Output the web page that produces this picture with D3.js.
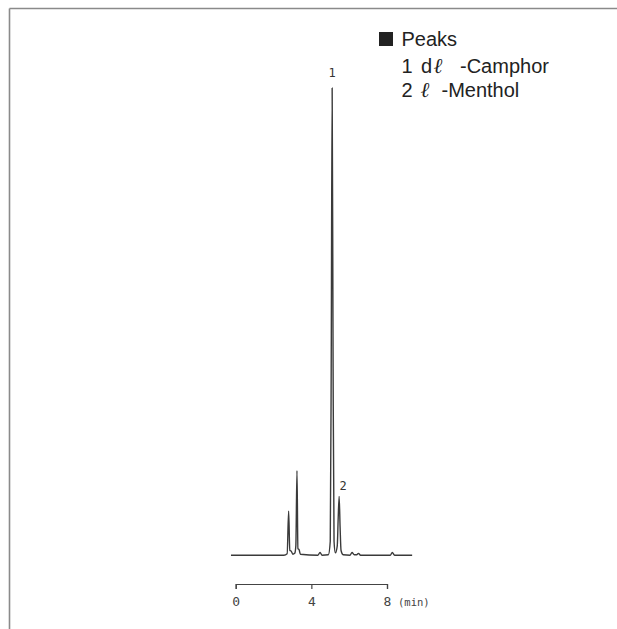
<!DOCTYPE html>
<html><head><meta charset="utf-8">
<script src="https://cdn.jsdelivr.net/npm/d3@7"></script>
<style>body{margin:0;background:#fff}svg{display:block}</style>
</head><body>
<script>
// Chromatogram trace: retention time (min) and relative signal
const traceTime   = [-0.25, 2.55, 2.72, 2.80, 2.86, 2.93, 3.02, 3.12, 3.18, 3.24, 3.29, 3.35, 3.42, 4.35, 4.46, 4.56, 4.90, 5.00, 5.05, 5.10, 5.15, 5.20, 5.27, 5.37, 5.42, 5.47, 5.52, 5.57, 5.68, 6.05, 6.15, 6.27, 6.40, 6.49, 6.60, 8.18, 8.28, 8.40, 9.33];
const traceSignal = [0, 0, 0.3, 9.4, 1.0, 0.9, 0.2, 0.4, 2.0, 18.1, 1.4, 1.2, 0.2, 0, 0.6, 0, 0.1, 3.0, 40, 100, 40, 3.0, 0.5, 2.0, 8, 12.6, 6, 1.0, 0.1, 0, 0.6, 0.1, 0.1, 0.4, 0, 0, 0.6, 0, 0];
const peakNumbers = ["1", "2"];
const peakTimes   = [5.10, 5.47];
const peakHeights = [100, 12.6];
const axisTicks   = [0, 4, 8];
const axisUnit    = "(min)";
const legendTitle = "Peaks";
const legendNums  = ["1", "2"];
const legendD     = ["d", ""];
const legendNames = ["-Camphor", "-Menthol"];
const ellChar     = "\u2113";

const W = 617, H = 629;
const svg = d3.select("body").append("svg").attr("width", W).attr("height", H);

// frame lines
svg.append("line").attr("x1", 9.5).attr("y1", 8.5).attr("x2", W).attr("y2", 8.5)
  .attr("stroke", "#8a8a8a").attr("stroke-width", 1.6);
svg.append("line").attr("x1", 9.5).attr("y1", 8.5).attr("x2", 9.5).attr("y2", H)
  .attr("stroke", "#8a8a8a").attr("stroke-width", 1.6);

const x = d3.scaleLinear().domain([0, 8]).range([235.7, 387]);
const y = d3.scaleLinear().domain([0, 100]).range([555.2, 88]);

const pts = traceTime.map((t, i) => [t, traceSignal[i]]);
const line = d3.line().x(d => x(d[0])).y(d => y(d[1])).curve(d3.curveMonotoneX);
svg.append("path").datum(pts).attr("d", line)
  .attr("fill", "none").attr("stroke", "#3a3a3a").attr("stroke-width", 1.4)
  .attr("stroke-linejoin", "round");

// peak labels
const labelFont = "'DejaVu Sans Mono', monospace";
svg.selectAll("text.pk").data(peakNumbers).join("text").attr("class", "pk")
  .attr("x", (d, i) => x(peakTimes[i]) + (i === 1 ? 4 : 0))
  .attr("y", (d, i) => y(peakHeights[i]) - (i === 1 ? 6 : 11))
  .attr("text-anchor", "middle")
  .attr("font-family", labelFont).attr("font-size", 12).attr("fill", "#333")
  .text(d => d);

// time axis
const axis = d3.axisBottom(x).tickValues(axisTicks).tickSize(5).tickSizeOuter(5)
  .tickPadding(8).tickFormat(d3.format("d"));
const gA = svg.append("g").attr("transform", "translate(0,584)").call(axis);
gA.select(".domain").attr("stroke", "#444").attr("stroke-width", 1.2);
gA.selectAll(".tick line").attr("stroke", "#444").attr("stroke-width", 1.2);
gA.selectAll(".tick text").attr("font-family", labelFont).attr("font-size", 13).attr("fill", "#444");
svg.append("text").attr("x", 398).attr("y", 606)
  .attr("font-family", labelFont).attr("font-size", 10.5).attr("fill", "#444").text(axisUnit);

// legend
const lf = "'Liberation Sans', Arial, sans-serif";
svg.append("rect").attr("x", 379).attr("y", 32).attr("width", 14).attr("height", 14).attr("fill", "#222");
svg.append("text").attr("x", 401.5).attr("y", 46).attr("font-family", lf).attr("font-size", 20)
  .attr("fill", "#222").text(legendTitle);
const numX = [401.5, 401.5], dX = [421, 0], ellX = [433.5, 420.5], nameX = [460, 441.5], rowY = [73, 97];
legendNums.forEach((n, i) => {
  const t = svg.append("text").attr("y", rowY[i]).attr("font-family", lf).attr("font-size", 20).attr("fill", "#222");
  t.append("tspan").attr("x", numX[i]).text(n);
  if (legendD[i]) t.append("tspan").attr("x", dX[i]).text(legendD[i]);
  t.append("tspan").attr("x", ellX[i]).attr("font-family", "'DejaVu Serif', serif")
    .attr("font-style", "italic").attr("font-size", 21).text(ellChar);
  t.append("tspan").attr("x", nameX[i]).text(legendNames[i]);
});
</script>
</body></html>
